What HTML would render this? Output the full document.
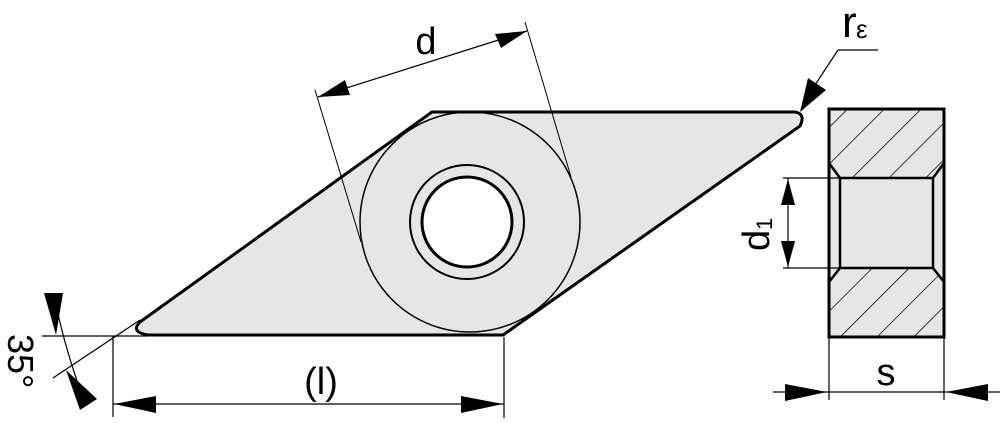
<!DOCTYPE html>
<html><head><style>body{margin:0;background:#fff}svg{display:block}</style></head><body>
<svg width="1000" height="423" viewBox="0 0 1000 423" xmlns="http://www.w3.org/2000/svg" font-family="Liberation Sans, Arial, sans-serif">
<defs>
<pattern id="h" patternUnits="userSpaceOnUse" width="26" height="26" patternTransform="rotate(45)">
<line x1="0" y1="0" x2="0" y2="26" stroke="#000" stroke-width="1.5"/>
</pattern>
<clipPath id="cb"><polygon points="829,109 944,109 944,163 933,178 840,178 829,163"/><polygon points="829,337 944,337 944,282 933,268 840,268 829,282"/></clipPath>
</defs>
<path d="M432,112 L795,112 Q806,114 800,126 L503,335 L148,335 Q130,332 140,322 Z" fill="#e6e6e6" stroke="#000" stroke-width="3" stroke-linejoin="round"/>
<circle cx="470" cy="222" r="110" fill="none" stroke="#000" stroke-width="1.5"/>
<circle cx="467" cy="222" r="57" fill="none" stroke="#000" stroke-width="2"/>
<circle cx="467" cy="222" r="45" fill="#fff" stroke="#000" stroke-width="3"/>
<line x1="315" y1="90" x2="361" y2="242" stroke="#000" stroke-width="1"/>
<line x1="525" y1="22" x2="571" y2="177" stroke="#000" stroke-width="1"/>
<line x1="318" y1="97" x2="527" y2="31" stroke="#000" stroke-width="1.2"/>
<polygon points="318,97 345,80 350,95" fill="#000"/>
<polygon points="527,31 495,34 501,48" fill="#000"/>
<text x="426" y="54" font-size="38" text-anchor="middle">d</text>
<line x1="42" y1="336" x2="148" y2="336" stroke="#000" stroke-width="1.2"/>
<line x1="113" y1="336" x2="113" y2="417" stroke="#000" stroke-width="1.2"/>
<line x1="504" y1="337" x2="504" y2="418" stroke="#000" stroke-width="1.2"/>
<line x1="113" y1="404" x2="504" y2="404" stroke="#000" stroke-width="1.2"/>
<polygon points="114,404 156,396 156,413" fill="#000"/>
<polygon points="503,404 461,396 461,413" fill="#000"/>
<text x="321" y="394" font-size="38" text-anchor="middle">(l)</text>
<line x1="53" y1="378" x2="140" y2="320" stroke="#000" stroke-width="1.2"/>
<path d="M55,300 Q64,345 82,395" fill="none" stroke="#000" stroke-width="1.2"/>
<polygon points="44,293 63,293 56,335" fill="#000"/>
<polygon points="66,370 97,399 80,410" fill="#000"/>
<text transform="translate(8,334) rotate(90)" font-size="36">35°</text>
<line x1="838" y1="50" x2="878" y2="50" stroke="#000" stroke-width="1.2"/>
<line x1="838" y1="50" x2="815" y2="85" stroke="#000" stroke-width="1.2"/>
<polygon points="800,112 808,78 826,90" fill="#000"/>
<text x="842" y="37" font-size="44">r</text>
<text x="856" y="38" font-size="26">ε</text>
<rect x="829" y="109" width="115" height="228" fill="#e6e6e6"/>
<rect x="829" y="109" width="115" height="228" fill="url(#h)" clip-path="url(#cb)"/>
<rect x="829" y="109" width="115" height="228" fill="none" stroke="#000" stroke-width="3"/>
<polyline points="829,163 840,178 933,178 944,163" fill="none" stroke="#000" stroke-width="2.5"/>
<polyline points="829,282 840,268 933,268 944,282" fill="none" stroke="#000" stroke-width="2.5"/>
<line x1="840" y1="178" x2="840" y2="268" stroke="#000" stroke-width="2.5"/>
<line x1="933" y1="178" x2="933" y2="268" stroke="#000" stroke-width="2.5"/>
<line x1="783" y1="178" x2="840" y2="178" stroke="#000" stroke-width="1.2"/>
<line x1="783" y1="268" x2="840" y2="268" stroke="#000" stroke-width="1.2"/>
<line x1="788" y1="178" x2="788" y2="268" stroke="#000" stroke-width="1.2"/>
<polygon points="788,179 781,205 795,205" fill="#000"/>
<polygon points="788,267 781,241 795,241" fill="#000"/>
<text transform="translate(769,251) rotate(-90)" font-size="38">d</text>
<text transform="translate(772,230) rotate(-90)" font-size="22">1</text>
<line x1="829" y1="337" x2="829" y2="400" stroke="#000" stroke-width="1.2"/>
<line x1="944" y1="337" x2="944" y2="400" stroke="#000" stroke-width="1.2"/>
<line x1="773" y1="392" x2="1000" y2="392" stroke="#000" stroke-width="1.2"/>
<polygon points="827,392 785,384 785,401" fill="#000"/>
<polygon points="946,392 988,384 988,401" fill="#000"/>
<text x="886" y="385" font-size="38" text-anchor="middle">s</text>
</svg>
</body></html>
